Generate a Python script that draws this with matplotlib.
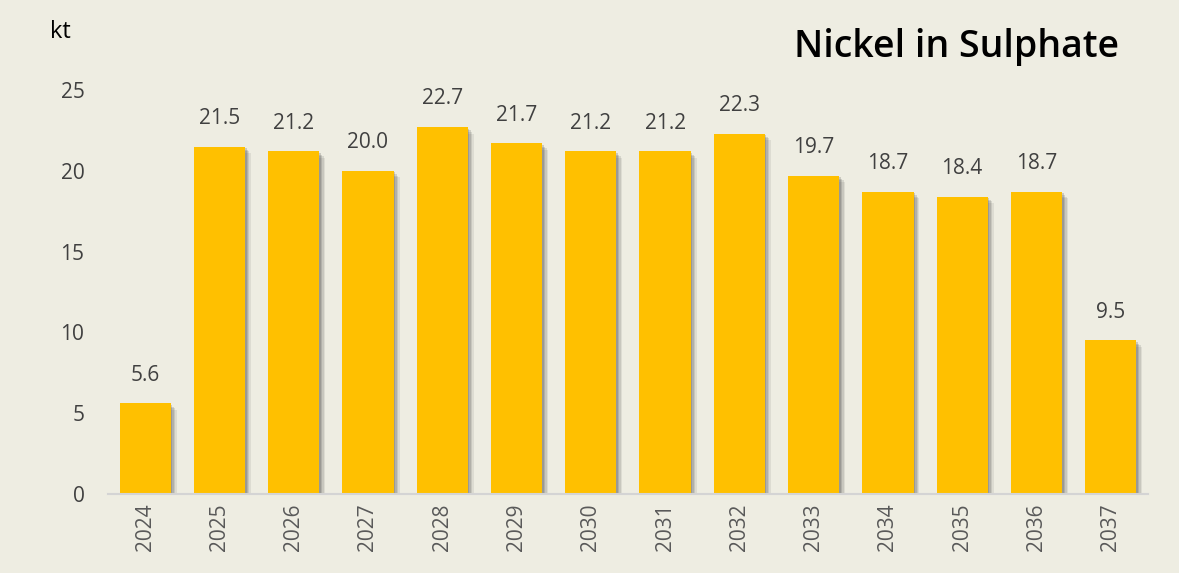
"""Nickel in Sulphate annual production bar chart."""

import matplotlib

matplotlib.use("Agg")
import matplotlib.pyplot as plt
import numpy as np

YEARS = ["2024", "2025", "2026", "2027", "2028", "2029", "2030",
         "2031", "2032", "2033", "2034", "2035", "2036", "2037"]
NICKEL_KT = [5.6, 21.5, 21.2, 20.0, 22.7, 21.7, 21.2,
             21.2, 22.3, 19.7, 18.7, 18.4, 18.7, 9.5]

BACKGROUND = "#EEEDE2"
BAR_COLOR = "#FFC000"
TEXT_COLOR = "#404040"

plt.rcParams["font.family"] = ["Open Sans", "DejaVu Sans"]

fig = plt.figure(figsize=(11.79, 5.73), dpi=100, facecolor=BACKGROUND)
ax = fig.add_axes([0.0916, 0.138, 0.882, 0.705], facecolor=BACKGROUND)

x = np.arange(len(YEARS))
width = 0.69

# soft drop shadow: a few offset translucent bars
for dx, dy, alpha in [(0.08, -0.4, 0.10), (0.06, -0.3, 0.14),
                      (0.04, -0.2, 0.18), (0.02, -0.1, 0.22)]:
    ax.bar(x + dx, NICKEL_KT, width=width, bottom=dy, color="#4a4a4a",
           alpha=alpha, linewidth=0, zorder=1)
ax.bar(x, NICKEL_KT, width=width, color=BAR_COLOR, linewidth=0, zorder=2)

for xi, val in zip(x, NICKEL_KT):
    ax.text(xi, val + 1.1, f"{val:.1f}", ha="center", va="bottom",
            fontsize=15, color=TEXT_COLOR)

ax.set_xlim(-0.5, len(YEARS) - 0.5)
ax.set_ylim(0, 25)
ax.set_yticks([0, 5, 10, 15, 20, 25])
ax.set_xticks(x)
ax.set_xticklabels(YEARS, rotation=90, fontsize=15, color="#595959")
ax.tick_params(axis="y", labelsize=15, labelcolor=TEXT_COLOR, length=0, pad=17)
ax.tick_params(axis="x", length=0, pad=7)

for side in ["top", "right", "left"]:
    ax.spines[side].set_visible(False)
ax.spines["bottom"].set_color("#D4D4D4")
ax.spines["bottom"].set_linewidth(1.5)
ax.spines["bottom"].set_zorder(3)

fig.text(0.042, 0.945, "kt", fontsize=17, color="black", ha="left", va="center")
fig.text(0.949, 0.918, "Nickel in Sulphate", fontsize=27, fontweight="semibold",
         color="black", ha="right", va="center")

fig.savefig("out.png", dpi=100, facecolor=BACKGROUND)
